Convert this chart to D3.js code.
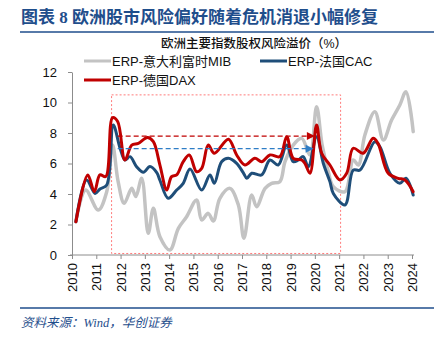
<!DOCTYPE html>
<html>
<head>
<meta charset="utf-8">
<script src="https://cdn.jsdelivr.net/npm/d3@7"></script>
<style>
  body { margin: 0; background: #fff; }
  text { font-family: "Liberation Sans", Arial, "Noto Sans CJK SC", sans-serif; }
  .cjk { font-family: "Liberation Sans", "Noto Sans CJK SC", sans-serif; }
  .serif { font-family: "Liberation Serif", "Noto Sans CJK SC", serif; }
</style>
</head>
<body>
<svg id="chart" width="442" height="340"></svg>
<script>
// [decimal year, ERP %]
const mib = [[2010.16,2.2],[2010.56,4.26],[2011.08,2.95],[2011.43,4.15],[2011.67,7.21],[2011.9,4.81],
  [2012.15,3.39],[2012.46,4.37],[2012.63,3.83],[2012.87,5.03],[2013.14,1.42],[2013.35,3.06],[2013.62,1.2],
  [2014.03,0.33],[2014.38,1.75],[2014.72,2.51],[2015.13,3.61],[2015.34,2.3],[2015.61,2.73],[2015.82,2.23],
  [2016.09,3.72],[2016.5,4.37],[2016.85,3.28],[2017.08,1.1],[2017.4,3.93],[2017.6,3.17],[2017.95,4.37],
  [2018.22,4.7],[2018.56,4.81],[2018.77,6.12],[2019.11,7.21],[2019.46,7.65],[2019.8,6.56],[2020.07,9.72],
  [2020.3,7.21],[2020.55,5.5],[2020.76,4.48],[2021.24,4.15],[2021.58,6.23],[2021.79,5.9],[2022.06,7.87],
  [2022.47,9.4],[2022.82,7.54],[2023.16,8.85],[2023.5,9.84],[2023.75,10.7],[2024.05,8.09]]

const cac = [[2010.16,2.18],[2010.6,4.92],[2010.95,4.04],[2011.15,4.33],[2011.43,4.59],[2011.7,8.52],
  [2011.98,7.0],[2012.18,6.23],[2012.39,6.45],[2012.66,5.79],[2012.94,5.42],[2013.21,5.8],[2013.49,5.4],
  [2013.62,4.9],[2013.96,3.72],[2014.31,4.26],[2014.58,4.7],[2014.86,5.64],[2015.34,4.26],[2015.68,5.25],
  [2015.86,4.7],[2016.16,6.12],[2016.44,6.34],[2016.78,6.01],[2017.05,5.4],[2017.2,5.03],[2017.4,5.36],
  [2017.81,5.25],[2018.15,6.23],[2018.49,5.9],[2018.84,7.21],[2019.11,6.12],[2019.32,6.23],[2019.52,6.45],
  [2019.73,5.79],[2020.07,7.76],[2020.35,6.0],[2020.62,4.81],[2020.76,4.04],[2021.24,3.28],[2021.58,5.57],
  [2021.86,5.57],[2022.47,7.43],[2022.68,7.1],[2023.09,5.36],[2023.5,4.7],[2023.75,5.03],[2024.05,3.93]]

const dax = [[2010.16,2.18],[2010.65,5.25],[2010.92,4.15],[2011.15,5.25],[2011.39,5.14],[2011.67,9.0],
  [2011.88,8.75],[2012.18,6.23],[2012.46,7.2],[2012.73,7.32],[2013.11,7.7],[2013.35,7.43],[2013.62,5.9],
  [2013.9,4.26],[2014.1,5.14],[2014.31,5.25],[2014.58,6.12],[2014.83,6.56],[2015.13,5.46],[2015.34,5.68],
  [2015.61,7.21],[2015.86,6.67],[2016.44,7.59],[2016.78,6.56],[2017.12,5.9],[2017.53,6.34],[2017.81,6.12],
  [2018.15,6.56],[2018.56,6.45],[2018.84,7.76],[2019.11,6.34],[2019.46,6.23],[2019.59,6.01],[2019.8,5.36],
  [2020.07,8.52],[2020.28,6.67],[2020.62,5.9],[2021.03,4.92],[2021.31,5.36],[2021.58,7.0],[2021.99,6.67],
  [2022.4,7.65],[2022.6,7.32],[2023.02,5.36],[2023.43,5.03],[2023.71,4.92],[2024.05,4.15]]

const years = d3.range(2010, 2025)
const yTicks = [0, 2, 4, 6, 8, 10, 12]
const legendNames = ["ERP-意大利富时MIB", "ERP-法国CAC", "ERP-德国DAX"]

// annotation: crisis box and the two reference levels
const box = { x0: 2011.63, x1: 2021.06, y0: 0.1, y1: 10.5 }
const levels = [
  { y: 7.8, x0: 2011.88, x1: 2020.0, color: "#c00000" },
  { y: 6.97, x0: 2011.88, x1: 2019.95, color: "#2e7dc6" }
]

const svg = d3.select("#chart")
const x = d3.scaleLinear().domain([2010, 2024]).range([72, 412])
const y = d3.scaleLinear().domain([0, 12]).range([255, 72])

// header
svg.append("text").attr("class", "serif")
  .attr("x", 21).attr("y", 23)
  .attr("font-size", 17).attr("font-weight", "bold").attr("fill", "#1f4e8c")
  .text("图表 8 欧洲股市风险偏好随着危机消退小幅修复")
svg.append("line").attr("x1", 20).attr("x2", 434).attr("y1", 32).attr("y2", 32)
  .attr("stroke", "#1f4e8c").attr("stroke-width", 1.5)
svg.append("text").attr("class", "cjk")
  .attr("x", 254).attr("y", 48).attr("text-anchor", "middle")
  .attr("font-size", 12.5).attr("font-weight", 500).attr("fill", "#111")
  .text("欧洲主要指数股权风险溢价（%）")

// axes
const gy = svg.append("g").attr("transform", "translate(72,0)")
  .call(d3.axisLeft(y).tickValues(yTicks).tickSize(4).tickSizeOuter(0).tickPadding(11))
const gx = svg.append("g").attr("transform", "translate(0,255)")
  .call(d3.axisBottom(x).tickValues(years).tickFormat(d3.format("d")).tickSize(4).tickSizeOuter(0))
gx.select(".domain").attr("d", "M70,0H414")
gx.selectAll(".tick text")
  .attr("transform", "rotate(-90)")
  .attr("text-anchor", "end").attr("x", -8).attr("y", 0).attr("dy", "0.35em")
for (const g of [gx, gy]) {
  g.selectAll(".domain, .tick line").attr("stroke", "#8c8c8c")
  g.selectAll(".tick text").attr("font-size", 13).attr("fill", "#111")
    .attr("font-family", "'Liberation Sans', Arial, sans-serif")
}

// crisis box
svg.append("rect")
  .attr("x", x(box.x0)).attr("y", y(box.y1))
  .attr("width", x(box.x1) - x(box.x0)).attr("height", y(box.y0) - y(box.y1))
  .attr("fill", "none").attr("stroke", "#ff7b7b").attr("stroke-width", 1)
  .attr("stroke-dasharray", "2,2")

// series
const line = d3.line().x(d => x(d[0])).y(d => y(d[1])).curve(d3.curveCatmullRom.alpha(0.5))
const series = [
  { data: mib, color: "#c3c3c3", w: 3.5 },
  { data: cac, color: "#1f4e79", w: 3 },
  { data: dax, color: "#c00000", w: 3 }
]
series.forEach(s => {
  svg.append("path").attr("d", line(s.data))
    .attr("fill", "none").attr("stroke", s.color).attr("stroke-width", s.w)
    .attr("stroke-linejoin", "round").attr("stroke-linecap", "round")
})

// dashed level arrows
levels.forEach(l => {
  const x1 = x(l.x1), yy = y(l.y)
  svg.append("line").attr("x1", x(l.x0)).attr("x2", x1 - 6).attr("y1", yy).attr("y2", yy)
    .attr("stroke", l.color).attr("stroke-width", 1.3).attr("stroke-dasharray", "5,3")
  svg.append("path")
    .attr("d", `M${x1 - 8},${yy - 4}L${x1},${yy}L${x1 - 8},${yy + 4}Z`)
    .attr("fill", l.color)
})

// legend
const legendPos = [[84, 61], [260, 61], [84, 80]]
legendNames.forEach((name, i) => {
  const [lx, ly] = legendPos[i]
  svg.append("line").attr("x1", lx).attr("x2", lx + 27).attr("y1", ly).attr("y2", ly)
    .attr("stroke", series[i].color).attr("stroke-width", 3)
  svg.append("text").attr("class", "cjk")
    .attr("x", lx + 28).attr("y", ly).attr("dy", "0.36em")
    .attr("font-size", 13).attr("fill", "#111").text(name)
})

// footer
svg.append("line").attr("x1", 20).attr("x2", 434).attr("y1", 308).attr("y2", 308)
  .attr("stroke", "#1f4e8c").attr("stroke-width", 1.5)
svg.append("text").attr("class", "serif")
  .attr("x", 21).attr("y", 327)
  .attr("font-size", 12.5).attr("font-style", "italic").attr("fill", "#1f4e8c")
  .text("资料来源：Wind，华创证券")
</script>
</body>
</html>
